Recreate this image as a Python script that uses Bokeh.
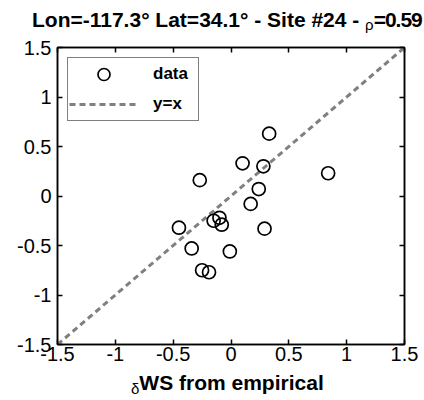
from bokeh.plotting import figure
from bokeh.models import Range1d, LinearAxis, FixedTicker, Legend, LegendItem, Div
from bokeh.layouts import column
from bokeh.embed import file_html
from bokeh.resources import INLINE

# ---- data ----
x_emp = [0.33, 0.10, 0.28, 0.84, -0.27, 0.24, 0.17, -0.15, -0.10, -0.08,
         -0.45, 0.29, -0.34, -0.01, -0.25, -0.19]
y_val = [0.63, 0.33, 0.30, 0.23, 0.16, 0.07, -0.08, -0.25, -0.22, -0.29,
         -0.32, -0.33, -0.53, -0.56, -0.75, -0.77]
ref_x = [-1.5, 1.5]
ref_y = [-1.5, 1.5]
ticks = [-1.5, -1.0, -0.5, 0.0, 0.5, 1.0, 1.5]
tick_labels = ["-1.5", "-1", "-0.5", "0", "0.5", "1", "1.5"]
title_main = "Lon=-117.3° Lat=34.1° - Site #24 - "
title_sub = "ρ"
title_tail = "=0.59"
xlabel_sub = "δ"
xlabel_main = "WS from empirical"
legend_labels = ["data", "y=x"]

FONT = "Liberation Sans"

title_div = Div(
    text=(f'<div style="font-family:\'{FONT}\';font-weight:bold;font-size:21px;'
          f'line-height:21px;white-space:nowrap;padding:9px 0 0 32px;color:black">'
          f'{title_main}<span style="font-weight:normal;font-size:15px;'
          f'vertical-align:-3px">{title_sub}</span>'
          f'<span style="letter-spacing:-1px">{title_tail}</span></div>'),
    width=424, height=33, margin=(0, 0, 0, 0), styles={"overflow": "hidden"})

xlabel_div = Div(
    text=(f'<div style="font-family:\'{FONT}\';font-weight:bold;font-size:21px;'
          f'line-height:21px;white-space:nowrap;padding:0 0 0 131px;color:black">'
          f'<span style="font-weight:normal;font-size:15px;vertical-align:-4px">'
          f'{xlabel_sub}</span>{xlabel_main}</div>'),
    width=424, height=28, margin=(0, 0, 0, 0), styles={"overflow": "hidden"})

p = figure(width=424, height=339, output_backend="svg", toolbar_location=None,
           x_range=Range1d(-1.5, 1.5), y_range=Range1d(-1.5, 1.5),
           x_axis_location=None, y_axis_location=None,
           min_border_left=57, min_border_right=20, min_border_top=14,
           min_border_bottom=28, margin=(0, 0, 0, 0))
p.xgrid.visible = False
p.ygrid.visible = False
p.outline_line_color = "black"
p.outline_line_width = 1.5
p.background_fill_color = "white"
p.border_fill_color = "white"

overrides = {float(t): lab for t, lab in zip(ticks, tick_labels)}


def make_axis(show_labels, standoff):
    ax = LinearAxis(ticker=FixedTicker(ticks=ticks, minor_ticks=[]))
    ax.major_tick_in = 5
    ax.major_tick_out = 0
    ax.minor_tick_in = 0
    ax.minor_tick_out = 0
    ax.axis_line_color = "black"
    ax.axis_line_width = 1.5
    ax.major_tick_line_color = "black"
    ax.major_tick_line_width = 1.5
    ax.major_label_overrides = overrides
    ax.major_label_standoff = standoff
    ax.major_label_text_font = FONT
    if show_labels:
        ax.major_label_text_font_size = "20px"
        ax.major_label_text_color = "black"
    else:
        ax.major_label_text_font_size = "8px"
        ax.major_label_text_color = None
    return ax


p.add_layout(make_axis(True, 2), "below")
p.add_layout(make_axis(True, 6), "left")
p.add_layout(make_axis(False, 0), "above")
p.add_layout(make_axis(False, 0), "right")

line_r = p.line(ref_x, ref_y, line_color="#808080", line_width=3, line_dash="6 4")
pts_r = p.scatter(x_emp, y_val, marker="circle", size=13, fill_color=None,
                  line_color="black", line_width=1.7)

legend = Legend(items=[LegendItem(label=legend_labels[0], renderers=[pts_r]),
                       LegendItem(label=legend_labels[1], renderers=[line_r])],
                location="top_left", margin=10, padding=1, spacing=-3,
                glyph_width=69, glyph_height=30, label_height=30,
                label_width=44, label_standoff=15,
                border_line_color="black", border_line_width=1.5,
                background_fill_color="white", background_fill_alpha=1.0,
                label_text_font=FONT, label_text_font_size="17px",
                label_text_font_style="bold", label_text_color="black")
p.add_layout(legend, "center")

layout = column(title_div, p, xlabel_div, spacing=0, margin=(0, 0, 0, 0))

open("out.html", "w").write(file_html(layout, INLINE))
